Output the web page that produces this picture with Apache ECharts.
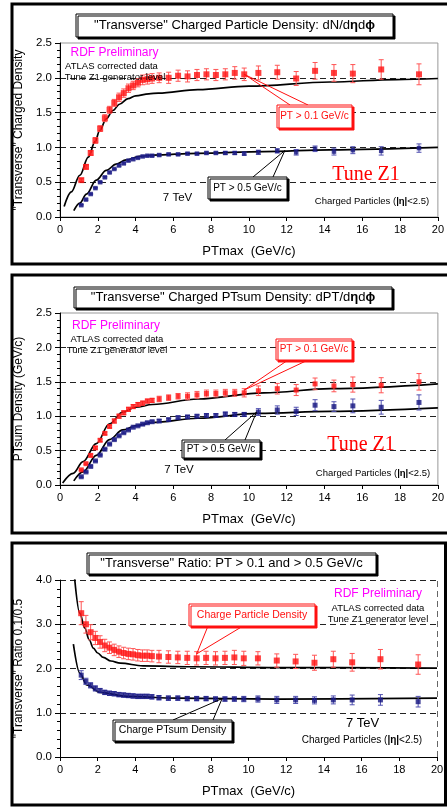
<!DOCTYPE html>
<html>
<head>
<meta charset="utf-8">
<script src="https://cdn.jsdelivr.net/npm/echarts@6/dist/echarts.min.js"></script>
<style>html,body{margin:0;padding:0;background:#fff}#c{width:447px;height:808px}</style>
</head>
<body>
<div id="c"></div>
<script>
// ---- data ----
const ptBins = [1.125,1.375,1.625,1.875,2.125,2.375,2.625,2.875,3.125,3.375,3.625,3.875,4.125,4.375,4.625,4.875,5.25,5.75,6.25,6.75,7.25,7.75,8.25,8.75,9.25,9.75,10.5,11.5,12.5,13.5,14.5,15.5,17,19];

// Panel 1: charged particle density
const dens01 = [0.53,0.72,0.92,1.10,1.27,1.42,1.54,1.64,1.72,1.78,1.85,1.89,1.93,1.97,1.98,1.99,2.00,2.00,2.03,2.02,2.04,2.05,2.04,2.05,2.07,2.05,2.07,2.08,1.99,2.10,2.07,2.06,2.12,2.05];
const dens01Err = [0.02,0.03,0.03,0.04,0.04,0.05,0.05,0.05,0.06,0.06,0.06,0.06,0.06,0.07,0.07,0.07,0.07,0.08,0.08,0.08,0.08,0.08,0.08,0.08,0.09,0.09,0.1,0.1,0.1,0.12,0.12,0.13,0.14,0.15];
const dens05 = [0.17,0.25,0.33,0.415,0.50,0.57,0.64,0.69,0.74,0.77,0.81,0.83,0.85,0.87,0.88,0.88,0.89,0.90,0.90,0.91,0.91,0.92,0.92,0.92,0.92,0.91,0.93,0.95,0.93,0.98,0.94,0.96,0.95,0.99];
const dens05Err = [0.01,0.01,0.01,0.01,0.01,0.01,0.01,0.01,0.01,0.01,0.01,0.01,0.01,0.01,0.01,0.01,0.015,0.015,0.015,0.015,0.015,0.015,0.015,0.02,0.02,0.02,0.03,0.03,0.04,0.04,0.05,0.05,0.06,0.06];
const tuneDens01X = [0.22,0.6,1.05,1.5,1.85,2.1,2.45,2.8,3.15,3.6,4.0,4.7,5.2,7.3,10,14.3,17.8,20];
const tuneDens01Y = [0.15,0.36,0.60,0.86,1.08,1.24,1.41,1.53,1.62,1.70,1.74,1.77,1.78,1.83,1.88,1.94,1.975,1.99];
const tuneDens05X = [0.73,1.05,1.4,1.92,2.45,2.97,3.5,4.2,4.9,7.3,10.8,14.3,20];
const tuneDens05Y = [0.09,0.20,0.33,0.53,0.67,0.76,0.82,0.87,0.89,0.915,0.94,0.965,1.0];

// Panel 2: PTsum density
const sum01 = [0.22,0.31,0.43,0.54,0.65,0.75,0.85,0.93,1.00,1.05,1.10,1.14,1.17,1.19,1.22,1.23,1.25,1.27,1.29,1.29,1.31,1.33,1.33,1.34,1.34,1.34,1.37,1.40,1.38,1.47,1.44,1.46,1.45,1.50];
const sum01Err = [0.01,0.01,0.02,0.02,0.02,0.02,0.02,0.03,0.03,0.03,0.03,0.03,0.03,0.03,0.03,0.03,0.04,0.04,0.04,0.05,0.05,0.05,0.05,0.05,0.05,0.06,0.07,0.077,0.08,0.085,0.085,0.11,0.11,0.12];
const sum05 = [0.12,0.19,0.27,0.35,0.435,0.52,0.595,0.66,0.715,0.76,0.80,0.84,0.86,0.885,0.905,0.92,0.93,0.95,0.98,0.99,1.00,1.01,1.01,1.03,1.025,1.025,1.06,1.09,1.07,1.16,1.14,1.15,1.13,1.20];
const sum05Err = [0.01,0.01,0.01,0.01,0.01,0.01,0.01,0.01,0.01,0.01,0.01,0.01,0.01,0.015,0.015,0.015,0.02,0.02,0.02,0.02,0.02,0.025,0.025,0.03,0.03,0.03,0.05,0.06,0.06,0.08,0.07,0.1,0.1,0.11];
const tuneSum01X = [0.14,0.7,1.22,1.92,2.62,3.32,4.0,4.9,7.3,10.8,14.3,20];
const tuneSum01Y = [0.03,0.17,0.34,0.60,0.89,1.06,1.13,1.17,1.25,1.34,1.40,1.47];
const tuneSum05X = [0.73,1.22,1.92,2.62,3.32,4.0,4.9,7.3,10.5,14.3,20];
const tuneSum05Y = [0.06,0.19,0.43,0.66,0.80,0.86,0.91,0.97,1.04,1.07,1.12];

// Panel 3: ratio 0.1/0.5
const ratioDens = [3.25,3.0,2.82,2.69,2.6,2.52,2.47,2.42,2.38,2.35,2.33,2.32,2.30,2.29,2.29,2.28,2.27,2.26,2.25,2.24,2.23,2.24,2.23,2.24,2.25,2.23,2.23,2.18,2.16,2.13,2.21,2.14,2.21,2.09];
const ratioDensErr = [0.26,0.2,0.17,0.15,0.14,0.14,0.13,0.13,0.13,0.13,0.13,0.13,0.13,0.13,0.13,0.13,0.14,0.14,0.14,0.15,0.15,0.15,0.15,0.15,0.16,0.16,0.15,0.15,0.16,0.17,0.18,0.2,0.22,0.22];
const ratioSum = [1.85,1.71,1.62,1.55,1.50,1.46,1.44,1.43,1.41,1.40,1.39,1.38,1.37,1.37,1.37,1.36,1.34,1.33,1.33,1.32,1.32,1.32,1.31,1.31,1.31,1.31,1.31,1.29,1.29,1.28,1.29,1.29,1.29,1.25];
const ratioSumErr = [0.1,0.07,0.06,0.06,0.05,0.05,0.05,0.05,0.05,0.05,0.05,0.05,0.05,0.05,0.05,0.05,0.05,0.05,0.05,0.05,0.05,0.05,0.05,0.05,0.05,0.06,0.07,0.08,0.08,0.08,0.09,0.11,0.12,0.12];
const tuneRatioDensX = [0.78,1.05,1.31,1.55,1.77,2.0,2.3,2.7,3.2,4.4,7,11.5,20];
const tuneRatioDensY = [4.02,3.25,2.92,2.65,2.46,2.35,2.25,2.17,2.12,2.06,2.04,2.02,2.01];
const tuneRatioSumX = [0.71,1.06,1.42,2.12,3.54,6.2,11.5,20];
const tuneRatioSumY = [2.55,1.89,1.63,1.46,1.37,1.33,1.31,1.33];

const xTicks = {min:0, max:20, interval:2};
const yRanges = [{min:0,max:2.5,interval:0.5},{min:0,max:2.5,interval:0.5},{min:0,max:4,interval:1}];
const yNames = ['"Transverse" Charged Density','PTsum Density (GeV/c)','"Transverse" Ratio 0.1/0.5'];
const xName = 'PTmax  (GeV/c)';

// ---- chart ----
const FONT = '"Liberation Sans", Arial, Helvetica, sans-serif';
const RED = '#ff1010', RED_ERR = '#ff5555', BLUE = '#141480', BLUE_ERR = '#5050b0';
const chart = echarts.init(document.getElementById('c'), null, {renderer:'canvas'});

const grids = [
  {left:60, top:43, width:382, height:174, show:true, borderColor:'#999', borderWidth:1},
  {left:60, top:313, width:382, height:172, show:true, borderColor:'#999', borderWidth:1},
  {left:60, top:580, width:377, height:177, show:false}
];

const xAxes = [0,1,2].map(i => ({
  type:'value', gridIndex:i, min:xTicks.min, max:xTicks.max, interval:xTicks.interval,
  axisLine:{show:true, onZero:false, lineStyle:{color:'#000', width:1}},
  axisTick:{show:true, inside:false, length:4, lineStyle:{color:'#000'}},
  axisLabel:{color:'#000', fontSize:11, fontFamily:FONT, margin:7},
  splitLine:{show:false},
  name:xName, nameLocation:'middle', nameGap:28,
  nameTextStyle:{color:'#000', fontSize:13, fontFamily:FONT}
}));

const yAxes = [0,1,2].map(i => ({
  type:'value', gridIndex:i, min:yRanges[i].min, max:yRanges[i].max, interval:yRanges[i].interval,
  axisLine:{show:true, onZero:false, lineStyle:{color:'#000', width:1}},
  axisTick:{show:true, inside:false, length:5, lineStyle:{color:'#000'}},
  minorTick:{show:true, splitNumber:5, length:3, lineStyle:{color:'#000'}},
  axisLabel:{color:'#000', fontSize:11.5, fontFamily:FONT, margin:8, formatter:v => v.toFixed(1)},
  splitLine:{show:true, showMinLine:false, showMaxLine:(i===2), lineStyle:{color:'#222', width:1, type:[6,4]}},
  name:yNames[i], nameLocation:'middle', nameGap:i===2?33:32,
  nameTextStyle:{color:'#000', fontSize:12, fontFamily:FONT}
}));

function pairs(xs, ys){ return xs.map((x,k)=>[x, ys[k]]); }
function triples(xs, ys, es){ return xs.map((x,k)=>[x, ys[k], es[k]]); }

function errSeries(idx, data, color, cap){
  return {
    type:'custom', xAxisIndex:idx, yAxisIndex:idx, z:3, silent:true,
    data:data, encode:{x:0, y:1},
    renderItem:function(params, api){
      const x = api.value(0), y = api.value(1), e = api.value(2);
      const hi = api.coord([x, y+e]), lo = api.coord([x, y-e]);
      const st = {stroke:color, lineWidth:1};
      return {type:'group', children:[
        {type:'line', shape:{x1:hi[0], y1:hi[1], x2:lo[0], y2:lo[1]}, style:st},
        {type:'line', shape:{x1:hi[0]-cap, y1:hi[1], x2:hi[0]+cap, y2:hi[1]}, style:st},
        {type:'line', shape:{x1:lo[0]-cap, y1:lo[1], x2:lo[0]+cap, y2:lo[1]}, style:st}
      ]};
    }
  };
}
function ptsSeries(idx, data, color, size){
  return {type:'scatter', xAxisIndex:idx, yAxisIndex:idx, z:4, symbol:'rect', symbolSize:size,
    itemStyle:{color:color}, data:data, silent:true};
}
function lineSeries(idx, data, extra){
  return Object.assign({type:'line', xAxisIndex:idx, yAxisIndex:idx, z:2, showSymbol:false, symbol:'none',
    smooth:0.35, smoothMonotone:'x', clip:true, silent:true,
    lineStyle:{color:'#000', width:1.7}, data:data}, extra||{});
}

const series = [
  lineSeries(0, pairs(tuneDens01X, tuneDens01Y)),
  lineSeries(0, pairs(tuneDens05X, tuneDens05Y)),
  errSeries(0, triples(ptBins, dens01, dens01Err), RED_ERR, 2.5),
  errSeries(0, triples(ptBins, dens05, dens05Err), BLUE_ERR, 2.5),
  ptsSeries(0, pairs(ptBins, dens01), RED, 6),
  ptsSeries(0, pairs(ptBins, dens05), BLUE, 4.5),

  lineSeries(1, pairs(tuneSum01X, tuneSum01Y)),
  lineSeries(1, pairs(tuneSum05X, tuneSum05Y)),
  errSeries(1, triples(ptBins, sum01, sum01Err), RED_ERR, 2.5),
  errSeries(1, triples(ptBins, sum05, sum05Err), BLUE_ERR, 2.5),
  ptsSeries(1, pairs(ptBins, sum01), RED, 5),
  ptsSeries(1, pairs(ptBins, sum05), BLUE, 5),

  lineSeries(2, pairs(tuneRatioDensX, tuneRatioDensY), {
    markLine:{silent:true, symbol:'none', label:{show:false},
      lineStyle:{type:[6,4], color:'#666', width:1}, data:[{xAxis:20}]}
  }),
  lineSeries(2, pairs(tuneRatioSumX, tuneRatioSumY)),
  errSeries(2, triples(ptBins, ratioDens, ratioDensErr), RED_ERR, 2.5),
  errSeries(2, triples(ptBins, ratioSum, ratioSumErr), BLUE_ERR, 2.5),
  ptsSeries(2, pairs(ptBins, ratioDens), RED, 6),
  ptsSeries(2, pairs(ptBins, ratioSum), BLUE, 5)
];

chart.setOption({
  animation:false, backgroundColor:'#fff',
  grid:grids, xAxis:xAxes, yAxis:yAxes, series:series
});

// ---- annotations ----
const g = [];
function frame(x, y, w, h){
  g.push({type:'rect', z:1, shape:{x:x, y:y, width:w, height:h}, style:{fill:null, stroke:'#000', lineWidth:3}});
}
function box(x, y, w, h, color){
  g.push({type:'rect', z:20, shape:{x:x, y:y, width:w, height:h},
    style:{fill:'#fff', stroke:color, lineWidth:1, shadowColor:color, shadowOffsetX:2, shadowOffsetY:2, shadowBlur:0}});
}
function text(cx, cy, str, size, color, family, extra){
  g.push({type:'text', z:30, x:cx, y:cy, style:Object.assign({text:str, fontSize:size, fill:color,
    fontFamily:family||FONT, align:'center', verticalAlign:'middle'}, extra||{})});
}
function richText(cx, cy, str, size, color){
  g.push({type:'text', z:30, x:cx, y:cy, style:{text:str, align:'center', verticalAlign:'middle',
    rich:{n:{fontSize:size, fill:color, fontFamily:FONT}, b:{fontSize:size, fill:color, fontFamily:FONT, fontWeight:'bold'}}}});
}
function callout(grid, tipData, p1, p2, color){
  const t = chart.convertToPixel({gridIndex:grid}, tipData);
  g.push({type:'polyline', z:19, shape:{points:[p1, t, p2]}, style:{fill:null, stroke:color, lineWidth:1}});
}

// outer frames
frame(12, 4, 445, 260);
frame(12, 275, 445, 258);
frame(12, 543, 433.5, 262);

// Panel 1
box(76, 14, 317, 23, '#000');
richText(234.5, 25.5, '{n|"Transverse" Charged Particle Density: dN/d}{b|η}{n|d}{b|ϕ}', 13, '#000');
text(114.5, 53, 'RDF Preliminary', 12, '#ff00ff');
text(111.5, 66, 'ATLAS corrected data', 9.5, '#000');
text(115, 77, 'Tune Z1 generator level', 9.5, '#000');
text(177.5, 198, '7 TeV', 11.5, '#000');
text(366, 175, 'Tune Z1', 20, '#ff0000', '"Liberation Serif", "Times New Roman", serif');
richText(372, 201, '{n|Charged Particles (}{b||η|}{n|<2.5)}', 9.5, '#000');
callout(0, [9.75, 2.05], [290, 105], [308, 105], RED);
box(277, 105, 75, 23, RED);
text(314.5, 116.5, 'PT > 0.1 GeV/c', 10, RED);
callout(0, [11.9, 0.955], [253, 177], [273, 177], '#000');
box(208, 177, 79, 22, '#000');
text(247.5, 188, 'PT > 0.5 GeV/c', 10, '#000');

// Panel 2
box(74, 287, 318, 21, '#000');
richText(233, 297.5, '{n|"Transverse" Charged PTsum Density: dPT/d}{b|η}{n|d}{b|ϕ}', 13, '#000');
text(116, 326, 'RDF Preliminary', 12, '#ff00ff');
text(117, 339, 'ATLAS corrected data', 9.5, '#000');
text(117, 350, 'Tune Z1 generator level', 9.5, '#000');
text(179, 470, '7 TeV', 11.5, '#000');
text(361, 445, 'Tune Z1', 20, '#ff0000', '"Liberation Serif", "Times New Roman", serif');
richText(373, 473, '{n|Charged Particles (}{b||η|}{n|<2.5)}', 9.5, '#000');
callout(1, [9.75, 1.38], [288, 360], [308, 360], RED);
box(276, 339, 76, 21, RED);
text(314, 349.5, 'PT > 0.1 GeV/c', 10, RED);
callout(1, [10.4, 1.06], [225, 440], [245, 440], '#000');
box(182, 440, 78, 18, '#000');
text(221, 449, 'PT > 0.5 GeV/c', 10, '#000');

// Panel 3
box(87, 553, 289, 21, '#000');
text(231.5, 563.5, '"Transverse" Ratio: PT > 0.1 and > 0.5 GeV/c', 13, '#000');
text(378, 594, 'RDF Preliminary', 12, '#ff00ff');
text(378, 608, 'ATLAS corrected data', 9.5, '#000');
text(378, 619, 'Tune Z1 generator level', 9.5, '#000');
text(362.5, 723, '7 TeV', 13, '#000');
richText(362, 740, '{n|Charged Particles (}{b||η|}{n|<2.5)}', 10, '#000');
callout(2, [7.25, 2.33], [208, 626], [243, 626], RED);
box(189, 604, 126, 22, RED);
text(252, 615, 'Charge Particle Density', 10.5, RED);
callout(2, [8.6, 1.32], [173, 720], [213, 720], '#000');
box(113, 720, 119, 21, '#000');
text(172.5, 730.5, 'Charge PTsum Density', 10.5, '#000');

chart.setOption({graphic:g});
</script>
</body>
</html>
